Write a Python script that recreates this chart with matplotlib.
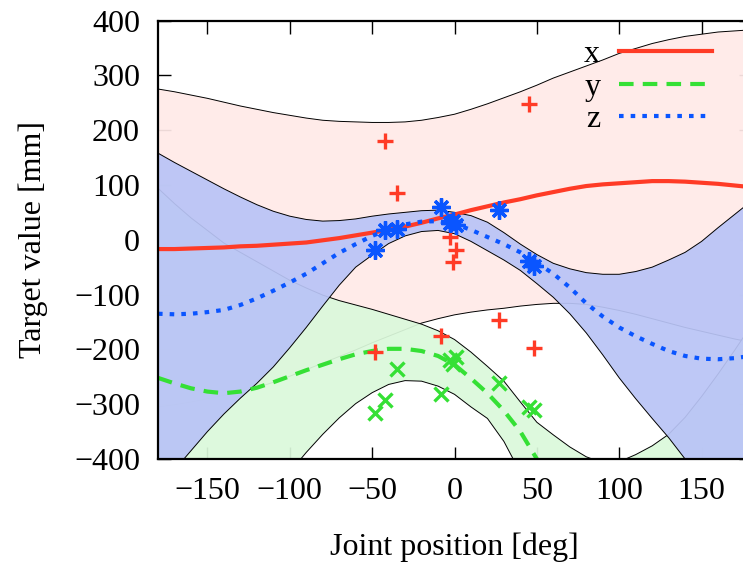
import matplotlib
matplotlib.use('Agg')
import matplotlib.pyplot as plt

# GP fit (joint position in deg, target in mm)
joint_grid = [-180, -170, -160, -150, -140, -130, -120, -110, -100, -90,
              -80, -70, -60, -50, -40, -30, -20, -10, 0, 10,
              20, 30, 40, 50, 60, 70, 80, 90, 100, 110,
              120, 130, 140, 150, 160, 170, 180]

x_mean = [-17, -17, -16, -15, -14, -12, -11, -9, -7, -5,
          -1, 3, 8, 13, 18, 24, 31, 39, 46, 54,
          61, 68, 74, 81, 87, 93, 98, 101, 103, 105,
          107, 107, 106, 104, 102, 99, 96]
x_upper = [275, 270, 264, 258, 251, 244, 238, 232, 227, 222,
           218, 216, 215, 214, 214, 215, 218, 223, 229, 238,
           248, 259, 270, 282, 295, 306, 317, 328, 340, 349,
           358, 365, 371, 375, 379, 381, 383]
x_lower = [-305, -301, -296, -290, -284, -277, -270, -260, -249, -237,
           -225, -213, -201, -188, -176, -164, -152, -144, -137, -132,
           -128, -125, -121, -118, -116, -116, -118, -123, -129, -136,
           -144, -152, -160, -167, -174, -181, -187]

y_mean = [-252, -262, -271, -277, -280, -277, -270, -260, -249, -238,
          -228, -218, -209, -203, -199, -199, -203, -212, -228, -253,
          -280, -312, -350, -400, -440, -470, -490, -500, -505, -500,
          -495, -490, -480, -470, -460, -450, -440]
y_upper = [94, 66, 40, 17, -6, -23, -40, -57, -74, -88,
           -101, -111, -119, -127, -136, -145, -154, -166, -182, -205,
           -231, -258, -296, -333, -356, -378, -396, -407, -405, -392,
           -376, -355, -324, -286, -245, -202, -157]
y_lower = [-598, -590, -582, -571, -554, -531, -500, -463, -424, -388,
           -355, -325, -299, -279, -264, -257, -258, -267, -282, -305,
           -326, -368, -425, -480, -524, -562, -584, -600, -605, -608,
           -614, -625, -636, -654, -675, -698, -723]

z_mean = [-135, -136, -135, -132, -128, -119, -107, -93, -78, -62,
          -43, -24, -8, 7, 19, 28, 33, 34, 29, 18,
          5, -8, -23, -42, -62, -87, -116, -140, -160, -176,
          -190, -203, -212, -217, -218, -216, -212]
z_upper = [158, 141, 125, 109, 93, 78, 64, 52, 43, 37,
           34, 35, 38, 43, 47, 50, 53, 54, 50, 44,
           32, 13, -8, -27, -43, -53, -60, -63, -63, -58,
           -50, -37, -23, -3, 22, 46, 70]
z_lower = [-450, -420, -385, -350, -318, -289, -262, -232, -197, -160,
           -121, -83, -50, -28, -7, 7, 15, 17, 11, -3,
           -20, -37, -56, -80, -105, -135, -170, -210, -252, -290,
           -326, -361, -400, -440, -470, -490, -500]

# training samples
obs_pos = [-48, -42, -35, -8, -3, -1, 1, 27, 45, 48]
obs_x = [-205, 180, 85, -176, 5, -40, -18, -147, 247, -197]
obs_y = [-316, -293, -235, -281, -220, -227, -214, -261, -306, -311]
obs_z = [-18, 17, 20, 60, 30, 35, 27, 54, -38, -47]

plt.rcParams['font.family'] = ['Liberation Serif', 'DejaVu Serif']
plt.rcParams['font.size'] = 23

fig = plt.figure(figsize=(7.43, 5.62), dpi=100)
ax = fig.add_axes([158 / 743, 103 / 562, 593 / 743, 438.5 / 562])

# bands drawn back to front, each with a thin black border
bands = [
    (x_lower, x_upper, '#ffeae8'),
    (y_lower, y_upper, '#dbf9db'),
    (z_lower, z_upper, '#b9c4f6'),
]
for i, (lo, hi, fc) in enumerate(bands):
    ax.fill_between(joint_grid, lo, hi, facecolor=fc, edgecolor='none',
                    alpha=0.93, zorder=1 + i)
    ax.plot(joint_grid, lo, color='black', lw=0.7, zorder=1.5 + i)
    ax.plot(joint_grid, hi, color='black', lw=0.7, zorder=1.5 + i)

ax.plot(joint_grid, x_mean, color='#ff3b26', lw=3, label='x', zorder=6)
ax.plot(joint_grid, y_mean, color='#35e035', lw=3, dashes=(3.5, 2.2),
        label='y', zorder=6)
ax.plot(joint_grid, z_mean, color='#0a55ff', lw=3, dashes=(1.1, 1.7),
        label='z', zorder=6)

ax.plot(obs_pos, obs_x, ls='none', marker='+', ms=11, mew=2.4,
        color='#ff3b26', zorder=7)
ax.plot(obs_pos, obs_y, ls='none', marker='x', ms=10, mew=2.4,
        color='#35e035', zorder=7)
ax.plot(obs_pos, obs_z, ls='none', marker=(8, 2, 0), ms=13, mew=2.4,
        color='#0a55ff', zorder=7)

ax.set_xlim(-180, 180)
ax.set_ylim(-400, 400)
ax.set_xticks([-150, -100, -50, 0, 50, 100, 150])
ax.set_yticks(range(-400, 401, 100))
ax.set_axisbelow(True)
ax.tick_params(direction='in', length=9, width=1.0, top=True, right=True, pad=13)
for sp in ax.spines.values():
    sp.set_linewidth(1.6)
    sp.set_zorder(10)

ax.set_xlabel('Joint position [deg]')
ax.set_ylabel('Target value [mm]')
ax.xaxis.set_label_coords(0.5, -0.167)
ax.yaxis.set_label_coords(-0.185, 0.5)

ax.legend(loc='upper right', bbox_to_anchor=(712 / 743, 1 - 40 / 562),
          bbox_transform=fig.transFigure, frameon=False, markerfirst=False,
          handlelength=2.9, handletextpad=0.6, labelspacing=0.1,
          borderpad=0, borderaxespad=0)

fig.savefig('out.png', dpi=100)
